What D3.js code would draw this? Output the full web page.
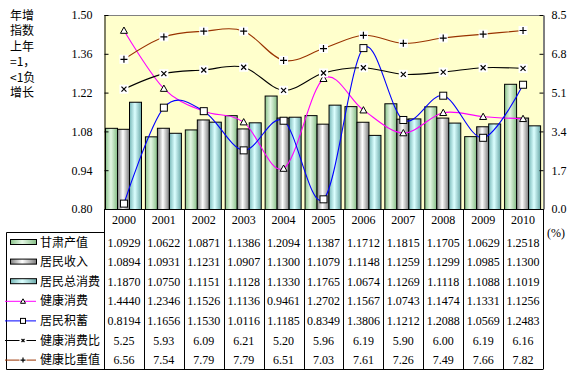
<!DOCTYPE html>
<html>
<head>
<meta charset="utf-8">
<script src="https://cdn.jsdelivr.net/npm/d3@7/dist/d3.min.js"></script>
<style>
  body { margin: 0; background: #fff; }
  svg { display: block; }
  .num { font-family: "Liberation Serif", "Times New Roman", serif; font-size: 12px; fill: #000; }
  .cjk { font-family: "Noto Sans CJK SC", sans-serif; font-size: 12px; fill: #000; }
</style>
</head>
<body>
<svg id="chart" width="577" height="375"></svg>
<script>
const years = ["2000","2001","2002","2003","2004","2005","2006","2007","2008","2009","2010"];
const gdp     = [1.0929,1.0622,1.0871,1.1386,1.2094,1.1387,1.1712,1.1815,1.1705,1.0629,1.2518];
const income  = [1.0894,1.0931,1.1231,1.0907,1.1300,1.1079,1.1148,1.1259,1.1299,1.0985,1.1300];
const consume = [1.1870,1.0750,1.1151,1.1128,1.1330,1.1765,1.0674,1.1269,1.1118,1.1088,1.1019];
const health  = [1.4440,1.2346,1.1526,1.1136,0.9461,1.2702,1.1567,1.0743,1.1474,1.1331,1.1256];
const saving  = [0.8194,1.1656,1.1530,1.0116,1.1185,0.8349,1.3806,1.1212,1.2088,1.0569,1.2483];
const ratio   = [5.25,5.93,6.09,6.21,5.20,5.96,6.19,5.90,6.00,6.19,6.16];
const share   = [6.56,7.54,7.79,7.79,6.51,7.03,7.61,7.26,7.49,7.66,7.82];
const leftTicks = [0.80,0.94,1.08,1.22,1.36,1.50];
const rightTicks = [0,1.7,3.4,5.1,6.8,8.5];
const noteLines = ["年增","指数","上年","=1，","<1负","增长"];

const bars = [
  { key: "gdp", name: "甘肃产值", values: gdp, grad: "gGreen" },
  { key: "income", name: "居民收入", values: income, grad: "gGray" },
  { key: "consume", name: "居民总消费", values: consume, grad: "gCyan" }
];
const lines = [
  { name: "健康消费", values: health, axis: "left", color: "#ff00ff", marker: "triangle" },
  { name: "居民积蓄", values: saving, axis: "left", color: "#0000ff", marker: "square" },
  { name: "健康消费比", values: ratio, axis: "right", color: "#000000", marker: "cross" },
  { name: "健康比重值", values: share, axis: "right", color: "#993300", marker: "plus" }
];

const plotLeft = 104, plotRight = 543, plotTop = 15, plotBottom = 209;
const tableLeft = 6, tableTop = 232, tableBottom = 369, rowStep = 19.6, firstRow = 242;

const svg = d3.select("#chart");

// gradients
const defs = svg.append("defs");
const grads = {
  gGreen: ["#8cc48c", "#e4f7e4", "#84bc84"],
  gGray: ["#808080", "#ffffff", "#7c7c7c"],
  gCyan: ["#78b8b8", "#dcffff", "#6aa8a8"]
};
Object.entries(grads).forEach(([id, c]) => {
  const g = defs.append("linearGradient").attr("id", id).attr("x1", 0).attr("x2", 1).attr("y1", 0).attr("y2", 0);
  g.append("stop").attr("offset", "0%").attr("stop-color", c[0]);
  g.append("stop").attr("offset", "45%").attr("stop-color", c[1]);
  g.append("stop").attr("offset", "100%").attr("stop-color", c[2]);
});

const x = d3.scaleBand().domain(years).range([plotLeft, plotRight]);
const xInner = d3.scaleBand().domain(bars.map(b => b.key)).range([1, 37]);
const yL = d3.scaleLinear().domain([0.8, 1.5]).range([plotBottom, plotTop]);
const yR = d3.scaleLinear().domain([0, 8.5]).range([plotBottom, plotTop]);

// plot background
svg.append("rect")
  .attr("x", plotLeft).attr("y", plotTop)
  .attr("width", plotRight - plotLeft).attr("height", plotBottom - plotTop)
  .attr("fill", "#ffffcc");
svg.append("line")
  .attr("x1", plotLeft).attr("x2", plotRight).attr("y1", plotTop + 0.5).attr("y2", plotTop + 0.5)
  .attr("stroke", "#808080");

// bars
bars.forEach(b => {
  svg.append("g").selectAll("rect")
    .data(b.values)
    .join("rect")
    .attr("x", (d, i) => x(years[i]) + xInner(b.key) + 0.5)
    .attr("y", d => yL(d) + 0.5)
    .attr("width", xInner.bandwidth())
    .attr("height", d => plotBottom - yL(d))
    .attr("fill", `url(#${b.grad})`)
    .attr("stroke", "#000")
    .attr("stroke-width", 1);
});

function drawMarker(g, type, color, s) {
  if (type === "triangle") {
    g.append("path").attr("d", `M0,${-s}L${s},${s * 0.8}L${-s},${s * 0.8}Z`)
      .attr("fill", "#fff").attr("stroke", "#000");
  } else if (type === "square") {
    g.append("rect").attr("x", -s).attr("y", -s).attr("width", 2 * s).attr("height", 2 * s)
      .attr("fill", "#fff").attr("stroke", "#000");
  } else {
    g.append("rect").attr("x", -s - 1).attr("y", -s - 1).attr("width", 2 * s + 2).attr("height", 2 * s + 2)
      .attr("fill", "#fff");
    const d = type === "cross"
      ? `M${-s + 1},${-s + 1}L${s - 1},${s - 1}M${s - 1},${-s + 1}L${-s + 1},${s - 1}`
      : `M${-s},0L${s},0M0,${-s}L0,${s}`;
    g.append("path").attr("d", d).attr("stroke", "#000").attr("stroke-width", 1.2).attr("fill", "none");
  }
}

// lines
lines.forEach(l => {
  const yScale = l.axis === "left" ? yL : yR;
  const line = d3.line()
    .x((d, i) => x(years[i]) + x.bandwidth() / 2)
    .y(d => yScale(d))
    .curve(d3.curveCardinal.tension(0));
  svg.append("path")
    .datum(l.values)
    .attr("d", line)
    .attr("fill", "none")
    .attr("stroke", l.color)
    .attr("stroke-width", 1.1);
  l.values.forEach((v, i) => {
    const g = svg.append("g")
      .attr("transform", `translate(${x(years[i]) + x.bandwidth() / 2},${yScale(v)})`);
    drawMarker(g, l.marker, l.color, 3.5);
  });
});

// axes
const axL = svg.append("g")
  .attr("transform", `translate(${plotLeft + 0.5},0)`)
  .call(d3.axisLeft(yL).tickValues(leftTicks).tickFormat(d3.format(".2f")).tickSizeInner(-4).tickSizeOuter(0).tickPadding(12));
axL.selectAll("text").attr("class", "num");
axL.attr("font-family", null).attr("font-size", null);
axL.selectAll("line, path").attr("stroke", "#000");

const axR = svg.append("g")
  .attr("transform", `translate(${plotRight + 0.5},0)`)
  .call(d3.axisRight(yR).tickValues(rightTicks).tickFormat(d3.format(".1f")).tickSizeInner(-4).tickSizeOuter(0).tickPadding(8));
axR.selectAll("text").attr("class", "num");
axR.attr("font-family", null).attr("font-size", null);
axR.selectAll("line, path").attr("stroke", "#000");

// bottom axis line
svg.append("line")
  .attr("x1", plotLeft).attr("x2", plotRight + 1).attr("y1", plotBottom + 0.5).attr("y2", plotBottom + 0.5)
  .attr("stroke", "#000");

// category separators
const seps = years.map(y => x(y)).concat([plotRight]);
svg.append("g").selectAll("line")
  .data(seps)
  .join("line")
  .attr("x1", d => Math.round(d) + 0.5).attr("x2", d => Math.round(d) + 0.5)
  .attr("y1", plotBottom).attr("y2", tableBottom)
  .attr("stroke", "#000");

// year labels
svg.append("g").selectAll("text")
  .data(years)
  .join("text")
  .attr("class", "num")
  .attr("x", d => x(d) + x.bandwidth() / 2)
  .attr("y", 224)
  .attr("text-anchor", "middle")
  .text(d => d);

// table frame
svg.append("path")
  .attr("d", `M${plotLeft + 0.5},${tableTop + 0.5}H${tableLeft + 0.5}V${tableBottom + 0.5}H${plotRight + 0.5}`)
  .attr("fill", "none")
  .attr("stroke", "#000");

// table rows
const rows = bars.map(b => ({ name: b.name, values: b.values, fmt: d3.format(".4f"), bar: b }))
  .concat(lines.map(l => ({ name: l.name, values: l.values, fmt: l.axis === "left" ? d3.format(".4f") : d3.format(".2f"), line: l })));

rows.forEach((r, ri) => {
  const cy = firstRow + ri * rowStep;
  svg.append("g").selectAll("text")
    .data(r.values)
    .join("text")
    .attr("class", "num")
    .attr("x", (d, i) => x(years[i]) + x.bandwidth() / 2)
    .attr("y", cy + 4.5)
    .attr("text-anchor", "middle")
    .text(d => r.fmt(d));
  svg.append("text")
    .attr("class", "cjk")
    .attr("x", 40)
    .attr("y", cy + 4.5)
    .text(r.name);
  if (r.bar) {
    svg.append("rect")
      .attr("x", 10.5).attr("y", cy - 2.5)
      .attr("width", 26).attr("height", 5)
      .attr("fill", `url(#${r.bar.grad})`)
      .attr("stroke", "#000");
  } else {
    svg.append("line")
      .attr("x1", 5).attr("x2", 36).attr("y1", cy + 0.5).attr("y2", cy + 0.5)
      .attr("stroke", r.line.color);
    const g = svg.append("g").attr("transform", `translate(23,${cy + 0.5})`);
    drawMarker(g, r.line.marker, r.line.color, 2.5);
  }
});

// unit label
svg.append("text").attr("class", "num").attr("x", 547).attr("y", 237).text("(%)");

// left note
svg.append("g").selectAll("text")
  .data(noteLines)
  .join("text")
  .attr("class", "cjk")
  .attr("x", 10)
  .attr("y", (d, i) => 19.5 + i * 15.5)
  .text(d => d);
</script>
</body>
</html>
